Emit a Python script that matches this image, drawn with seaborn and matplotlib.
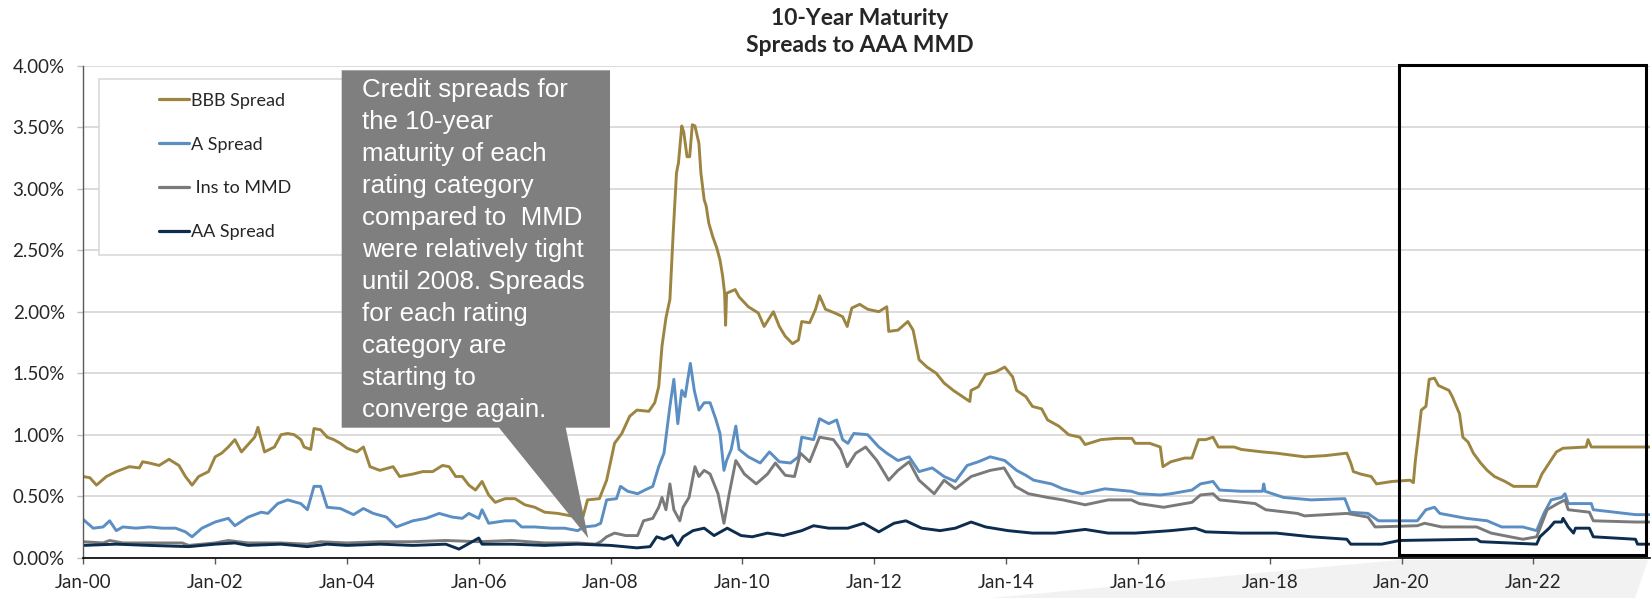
import pandas as pd
import numpy as np
import matplotlib
matplotlib.use("Agg")
import matplotlib.pyplot as plt
import matplotlib.dates as mdates
from matplotlib.patches import Rectangle, Polygon
from matplotlib.ticker import FuncFormatter, MultipleLocator
import seaborn as sns

# Spread data (years after Jan-2000, spread in %)
bbb_years = [0.0, 0.1, 0.2, 0.35, 0.5, 0.7, 0.85, 0.9, 1.0, 1.15, 1.3, 1.45, 1.55, 1.65, 1.75, 1.9,
             2.0, 2.1, 2.2, 2.3, 2.4, 2.5, 2.6, 2.65, 2.75, 2.9, 3.0, 3.1, 3.2, 3.3, 3.35, 3.45, 3.5,
             3.6, 3.7, 3.8, 3.9, 4.0, 4.15, 4.25, 4.35, 4.5, 4.7, 4.8, 5.0, 5.15, 5.3, 5.45, 5.55,
             5.65, 5.75, 5.85, 5.95, 6.05, 6.15, 6.25, 6.4, 6.55, 6.7, 6.85, 7.0, 7.2, 7.4, 7.58,
             7.65, 7.83, 7.94, 8.06, 8.17, 8.29, 8.4, 8.58, 8.67, 8.73, 8.78, 8.84, 8.9, 8.95, 9.0,
             9.03, 9.08, 9.11, 9.16, 9.2, 9.24, 9.28, 9.34, 9.37, 9.42, 9.45, 9.49, 9.55, 9.61, 9.66,
             9.7, 9.73, 9.745, 9.76, 9.89, 9.95, 10.09, 10.24, 10.33, 10.47, 10.56, 10.65, 10.76,
             10.85, 10.9, 11.02, 11.11, 11.17, 11.26, 11.4, 11.52, 11.59, 11.66, 11.78, 11.9, 12.07,
             12.19, 12.22, 12.36, 12.51, 12.59, 12.68, 12.8, 12.94, 13.06, 13.2, 13.31, 13.45, 13.47,
             13.58, 13.69, 13.84, 13.98, 14.1, 14.16, 14.3, 14.4, 14.54, 14.63, 14.8, 14.95, 15.12,
             15.2, 15.44, 15.67, 15.91, 15.96, 16.18, 16.34, 16.38, 16.5, 16.71, 16.82, 16.92, 17.03,
             17.14, 17.22, 17.46, 17.57, 17.89, 18.1, 18.53, 18.85, 19.17, 19.23, 19.27, 19.38,
             19.54, 19.62, 19.86, 20.13, 20.18, 20.21, 20.26, 20.3, 20.37, 20.42, 20.5, 20.56, 20.72,
             20.77, 20.88, 20.93, 21.01, 21.09, 21.2, 21.3, 21.41, 21.57, 21.7, 22.05, 22.13, 22.24,
             22.35, 22.45, 22.8, 22.83, 22.88, 23.76]
bbb_vals = [0.66, 0.65, 0.59, 0.66, 0.70, 0.74, 0.73, 0.78, 0.77, 0.75, 0.80, 0.75, 0.66, 0.59, 0.66, 0.70,
            0.82, 0.85, 0.90, 0.96, 0.86, 0.92, 0.98, 1.06, 0.86, 0.90, 1.00, 1.01, 1.00, 0.96, 0.90, 0.88, 1.05,
            1.04, 0.98, 0.96, 0.93, 0.89, 0.86, 0.90, 0.74, 0.71, 0.74, 0.66, 0.68, 0.70, 0.70, 0.75, 0.74,
            0.66, 0.66, 0.59, 0.55, 0.62, 0.51, 0.45, 0.48, 0.48, 0.43, 0.41, 0.37, 0.36, 0.34, 0.33,
            0.47, 0.48, 0.63, 0.93, 1.01, 1.15, 1.20, 1.19, 1.26, 1.39, 1.72, 1.95, 2.10, 2.64, 3.13,
            3.21, 3.51, 3.46, 3.26, 3.26, 3.52, 3.51, 3.37, 3.13, 2.91, 2.86, 2.72, 2.61, 2.52, 2.42,
            2.29, 2.15, 1.89, 2.15, 2.18, 2.12, 2.04, 1.99, 1.88, 2.00, 1.88, 1.80, 1.74,
            1.77, 1.92, 1.91, 2.02, 2.13, 2.02, 1.99, 1.96, 1.88, 2.03, 2.06, 2.02, 2.00,
            2.04, 1.84, 1.85, 1.92, 1.85, 1.61, 1.55, 1.50, 1.42, 1.36, 1.32, 1.27, 1.36,
            1.39, 1.49, 1.51, 1.55, 1.47, 1.36, 1.31, 1.23, 1.21, 1.12, 1.07, 1.00, 0.98,
            0.92, 0.96, 0.97, 0.97, 0.93, 0.93, 0.90, 0.74, 0.78, 0.81, 0.81, 0.96, 0.96,
            0.98, 0.90, 0.90, 0.88, 0.86, 0.85, 0.82, 0.83, 0.85, 0.77, 0.70, 0.68,
            0.66, 0.60, 0.62, 0.63, 0.61, 0.79, 1.01, 1.20, 1.23, 1.45, 1.46, 1.40, 1.36,
            1.31, 1.17, 0.98, 0.94, 0.85, 0.77, 0.71, 0.66, 0.62, 0.58, 0.58, 0.68, 0.77,
            0.86, 0.89, 0.90, 0.96, 0.90, 0.90]

a_years = [0.0, 0.15, 0.3, 0.4, 0.5, 0.6, 0.8, 1.0, 1.2, 1.4, 1.55, 1.65, 1.8, 2.0, 2.2, 2.3, 2.5, 2.7,
           2.8, 2.95, 3.1, 3.3, 3.4, 3.5, 3.6, 3.7, 3.9, 4.1, 4.25, 4.4, 4.6, 4.75, 5.0, 5.2, 5.4, 5.6,
           5.75, 5.85, 6.0, 6.05, 6.15, 6.4, 6.55, 6.65, 6.85, 7.1, 7.3, 7.5, 7.6, 7.77, 7.85, 7.94,
           8.09, 8.15, 8.26, 8.41, 8.52, 8.64, 8.73, 8.81, 8.9, 8.96, 9.02, 9.08, 9.13, 9.21, 9.27,
           9.34, 9.42, 9.51, 9.6, 9.66, 9.72, 9.76, 9.83, 9.9, 9.95, 10.09, 10.27, 10.41, 10.56,
           10.73, 10.85, 10.9, 11.08, 11.17, 11.31, 11.43, 11.52, 11.6, 11.69, 11.9, 12.07, 12.19,
           12.36, 12.53, 12.68, 12.88, 13.06, 13.23, 13.41, 13.58, 13.76, 13.98, 14.16, 14.3, 14.42,
           14.69, 14.86, 15.15, 15.5, 15.9, 16.02, 16.34, 16.5, 16.82, 16.95, 17.14, 17.24, 17.57,
           17.89, 17.91, 17.93, 18.21, 18.63, 19.14, 19.22, 19.49, 19.65, 20.24, 20.37, 20.5, 20.58,
           20.98, 21.3, 21.52, 21.84, 22.05, 22.16, 22.27, 22.43, 22.48, 22.53, 22.88, 22.91, 23.55,
           23.76]
a_vals = [0.31, 0.24, 0.25, 0.30, 0.22, 0.25, 0.24, 0.25, 0.24, 0.24, 0.21, 0.17, 0.24, 0.29, 0.32, 0.26, 0.33, 0.37,
          0.36, 0.44, 0.47, 0.44, 0.39, 0.58, 0.58, 0.41, 0.40, 0.35, 0.40, 0.36, 0.33, 0.25, 0.30, 0.32, 0.36, 0.33,
          0.32, 0.36, 0.32, 0.39, 0.28, 0.30, 0.30, 0.25, 0.25, 0.24, 0.24, 0.22, 0.25, 0.26, 0.28, 0.47,
          0.48, 0.58, 0.54, 0.52, 0.55, 0.58, 0.74, 0.85, 1.23, 1.45, 1.09, 1.36, 1.31, 1.58, 1.36,
          1.20, 1.26, 1.26, 1.12, 1.01, 0.71, 0.79, 0.88, 1.07, 0.88, 0.82, 0.77, 0.86, 0.78,
          0.77, 0.82, 0.98, 0.96, 1.13, 1.09, 1.12, 0.96, 0.93, 1.01, 1.00, 0.90, 0.85,
          0.79, 0.82, 0.70, 0.73, 0.66, 0.62, 0.75, 0.78, 0.82, 0.79, 0.71, 0.67, 0.63,
          0.60, 0.56, 0.52, 0.56, 0.54, 0.52, 0.51, 0.52, 0.55, 0.60, 0.62, 0.55, 0.54,
          0.54, 0.60, 0.54, 0.49, 0.47, 0.48, 0.37, 0.36, 0.30, 0.30, 0.39, 0.41, 0.36,
          0.32, 0.30, 0.25, 0.25, 0.22, 0.36, 0.47, 0.49, 0.52, 0.44, 0.44, 0.39, 0.35,
          0.35]

ins_years = [0.0, 0.3, 0.4, 0.6, 1.0, 1.5, 1.6, 2.0, 2.2, 2.5, 3.0, 3.4, 3.6, 4.0, 4.5, 5.0, 5.5, 6.0,
             6.5, 7.0, 7.5, 7.77, 7.85, 7.94, 8.06, 8.23, 8.41, 8.5, 8.64, 8.73, 8.78, 8.84, 8.9, 8.96,
             9.05, 9.1, 9.19, 9.28, 9.34, 9.42, 9.51, 9.63, 9.72, 9.8, 9.9, 10.03, 10.21, 10.38, 10.5,
             10.65, 10.79, 10.88, 11.02, 11.17, 11.38, 11.49, 11.59, 11.72, 11.87, 12.04, 12.22, 12.36,
             12.53, 12.68, 12.91, 13.06, 13.23, 13.47, 13.76, 13.97, 14.14, 14.34, 14.63, 14.86, 15.2,
             15.55, 15.9, 16.02, 16.39, 16.82, 16.95, 17.14, 17.24, 17.78, 17.94, 18.42, 18.53, 19.17,
             19.49, 19.6, 20.24, 20.35, 20.61, 21.14, 21.36, 21.84, 22.05, 22.21, 22.37, 22.48, 22.53,
             22.85, 22.91, 23.55, 23.76]
ins_vals = [0.13, 0.12, 0.14, 0.12, 0.12, 0.12, 0.10, 0.12, 0.14, 0.12, 0.12, 0.11, 0.13, 0.12, 0.13, 0.13, 0.14, 0.13,
            0.14, 0.12, 0.12, 0.11, 0.13, 0.17, 0.20, 0.18, 0.18, 0.30, 0.32, 0.41, 0.49, 0.39, 0.60, 0.39,
            0.30, 0.41, 0.49, 0.74, 0.66, 0.71, 0.68, 0.52, 0.28, 0.52, 0.79, 0.68, 0.60, 0.68, 0.77,
            0.67, 0.66, 0.85, 0.78, 0.98, 0.96, 0.88, 0.74, 0.85, 0.90, 0.79, 0.63, 0.71,
            0.78, 0.63, 0.52, 0.63, 0.56, 0.66, 0.71, 0.73, 0.58, 0.52, 0.49, 0.47, 0.43,
            0.47, 0.47, 0.44, 0.41, 0.45, 0.51, 0.52, 0.47, 0.44, 0.39, 0.36, 0.34, 0.36,
            0.33, 0.25, 0.26, 0.28, 0.25, 0.25, 0.20, 0.15, 0.17, 0.39, 0.44, 0.47, 0.39,
            0.37, 0.30, 0.29, 0.29]

aa_years = [0.0, 0.5, 1.0, 1.6, 2.0, 2.3, 2.5, 3.0, 3.4, 3.7, 4.0, 4.5, 5.0, 5.5, 5.7, 5.8, 6.0, 6.05,
            6.5, 7.0, 7.5, 8.0, 8.4, 8.6, 8.7, 8.81, 8.93, 9.02, 9.1, 9.25, 9.42, 9.57, 9.77, 9.98,
            10.15, 10.38, 10.62, 10.9, 11.08, 11.31, 11.6, 11.84, 12.07, 12.3, 12.48, 12.72, 13.0,
            13.23, 13.47, 13.69, 14.03, 14.4, 14.74, 15.2, 15.55, 15.96, 16.5, 16.87, 17.03, 17.57,
            18.1, 18.63, 19.17, 19.23, 19.7, 19.97, 21.14, 21.2, 22.05, 22.1, 22.24, 22.32, 22.43,
            22.45, 22.53, 22.61, 22.64, 22.85, 22.91, 23.55, 23.58, 23.76]
aa_vals = [0.10, 0.11, 0.10, 0.09, 0.11, 0.12, 0.10, 0.11, 0.09, 0.11, 0.10, 0.11, 0.10, 0.11, 0.07, 0.10, 0.16, 0.11,
           0.11, 0.10, 0.11, 0.10, 0.08, 0.09, 0.17, 0.15, 0.18, 0.10, 0.17, 0.22, 0.24, 0.18, 0.24, 0.18,
           0.17, 0.20, 0.18, 0.22, 0.26, 0.24, 0.24, 0.28, 0.21, 0.28, 0.30, 0.24, 0.22,
           0.24, 0.29, 0.25, 0.22, 0.20, 0.20, 0.23, 0.20, 0.20, 0.22, 0.24, 0.21, 0.20,
           0.20, 0.17, 0.15, 0.11, 0.11, 0.14, 0.15, 0.13, 0.11, 0.17, 0.24, 0.29, 0.29,
           0.32, 0.25, 0.20, 0.24, 0.24, 0.17, 0.15, 0.11, 0.11]

series_names = ['BBB Spread', 'A Spread', ' Ins to MMD', 'AA Spread']
series_colors = ['#9c8541', '#5b8ec2', '#7a7a7a', '#0c2d4e']
callout_lines = ["Credit spreads for", "the 10-year", "maturity of each", "rating category",
                 "compared to  MMD", "were relatively tight", "until 2008. Spreads",
                 "for each rating", "category are", "starting to", "converge again."]

start = pd.Timestamp('2000-01-01')


def to_frame(name, years, vals):
    dates = start + pd.to_timedelta(np.array(years) * 365.25, unit='D')
    return pd.DataFrame({'date': dates, 'value': vals, 'series': name})


df = pd.concat([to_frame(n, y, v) for n, y, v in zip(
    series_names, [bbb_years, a_years, ins_years, aa_years], [bbb_vals, a_vals, ins_vals, aa_vals])])

sns.set_theme(style='white')
plt.rcParams['font.family'] = ['Lato', 'DejaVu Sans']

W, H = 1652, 598
fig = plt.figure(figsize=(W / 100, H / 100), dpi=100)
ax = fig.add_axes([83.3 / W, 1 - 557.7 / H, (1650 - 83.3) / W, (557.7 - 65.7) / H])

sns.lineplot(data=df, x='date', y='value', hue='series', hue_order=series_names,
             palette=series_colors, linewidth=2.1, ax=ax, sort=False, estimator=None)

ax.set_ylim(0, 4)
ax.set_xlim(start, start + pd.Timedelta(days=23.77 * 365.25))
ax.yaxis.set_major_locator(MultipleLocator(0.5))
ax.yaxis.set_major_formatter(FuncFormatter(lambda v, _: f"{v:.2f}%"))
ax.xaxis.set_major_locator(mdates.YearLocator(2, month=1, day=1))
ax.xaxis.set_major_formatter(mdates.DateFormatter('%b-%y'))
ax.set_xlabel('')
ax.set_ylabel('')
ax.yaxis.grid(True, color='#d9d9d9', linewidth=1.3)
ax.set_axisbelow(True)
for s in ['top', 'right']:
    ax.spines[s].set_visible(False)
ax.spines['left'].set_color('#595959')
ax.spines['bottom'].set_color('black')
ax.spines['left'].set_linewidth(1.0)
ax.spines['bottom'].set_linewidth(1.2)
ax.tick_params(axis='x', direction='out', length=4, width=1, color='#595959', pad=8, labelsize=13.5, bottom=True)
ax.tick_params(axis='y', direction='out', length=4.3, width=1, color='#bfbfbf', pad=9, labelsize=13.5, left=True)

# legend with its own frame
handles, labels = ax.get_legend_handles_labels()
ax.add_patch(Rectangle((98.7 / W, 1 - 255 / H), (350 - 98.7) / W, (255 - 79.3) / H,
                       transform=fig.transFigure, facecolor='white', edgecolor='#d9d9d9',
                       linewidth=1.2, zorder=4, clip_on=False))
leg = ax.legend(handles, labels, loc='center left', bbox_to_anchor=(158.8 / W, 1 - 166.5 / H),
                bbox_transform=fig.transFigure, frameon=False, fontsize=13, handlelength=1.65,
                handletextpad=0.15, labelspacing=1.55, borderpad=0, borderaxespad=0)
leg.set_zorder(5)
for line in leg.get_lines():
    line.set_linewidth(2.3)

# light background wedge below the axis
fig.patches.append(Polygon([(990 / W, 0), (1399 / W, 1 - 560 / H), (1648 / W, 1 - 560 / H), (1635 / W, 0)],
                           closed=True, transform=fig.transFigure, facecolor='#f2f2f2',
                           edgecolor='none', zorder=-1))

# callout
pts = [(341.7, 70.3), (610, 70.3), (610, 427.7), (565.7, 427.7), (588.3, 538.3), (499, 427.7), (341.7, 427.7)]
fig.patches.append(Polygon([(x / W, 1 - y / H) for x, y in pts], closed=True, transform=fig.transFigure,
                           facecolor='#7f7f7f', edgecolor='none', zorder=8))
for i, line in enumerate(callout_lines):
    fig.text(361.6 / W, 1 - (90 + 32 * i) / H, line, color='white', fontsize=18.6,
             family=['Liberation Sans', 'DejaVu Sans'], ha='left', va='center', zorder=9)

# highlight box
fig.patches.append(Rectangle((1398.7 / W, 1 - 555 / H), (1646 - 1398.7) / W, (555 - 65) / H,
                             transform=fig.transFigure, fill=False, edgecolor='black',
                             linewidth=2.2, zorder=10))

fig.text(860 / W, 1 - 32 / H, "10-Year Maturity\nSpreads to AAA MMD", ha='center', va='center',
         fontsize=16.5, fontweight='bold', linespacing=1.3)

fig.savefig('out.png', dpi=100)
